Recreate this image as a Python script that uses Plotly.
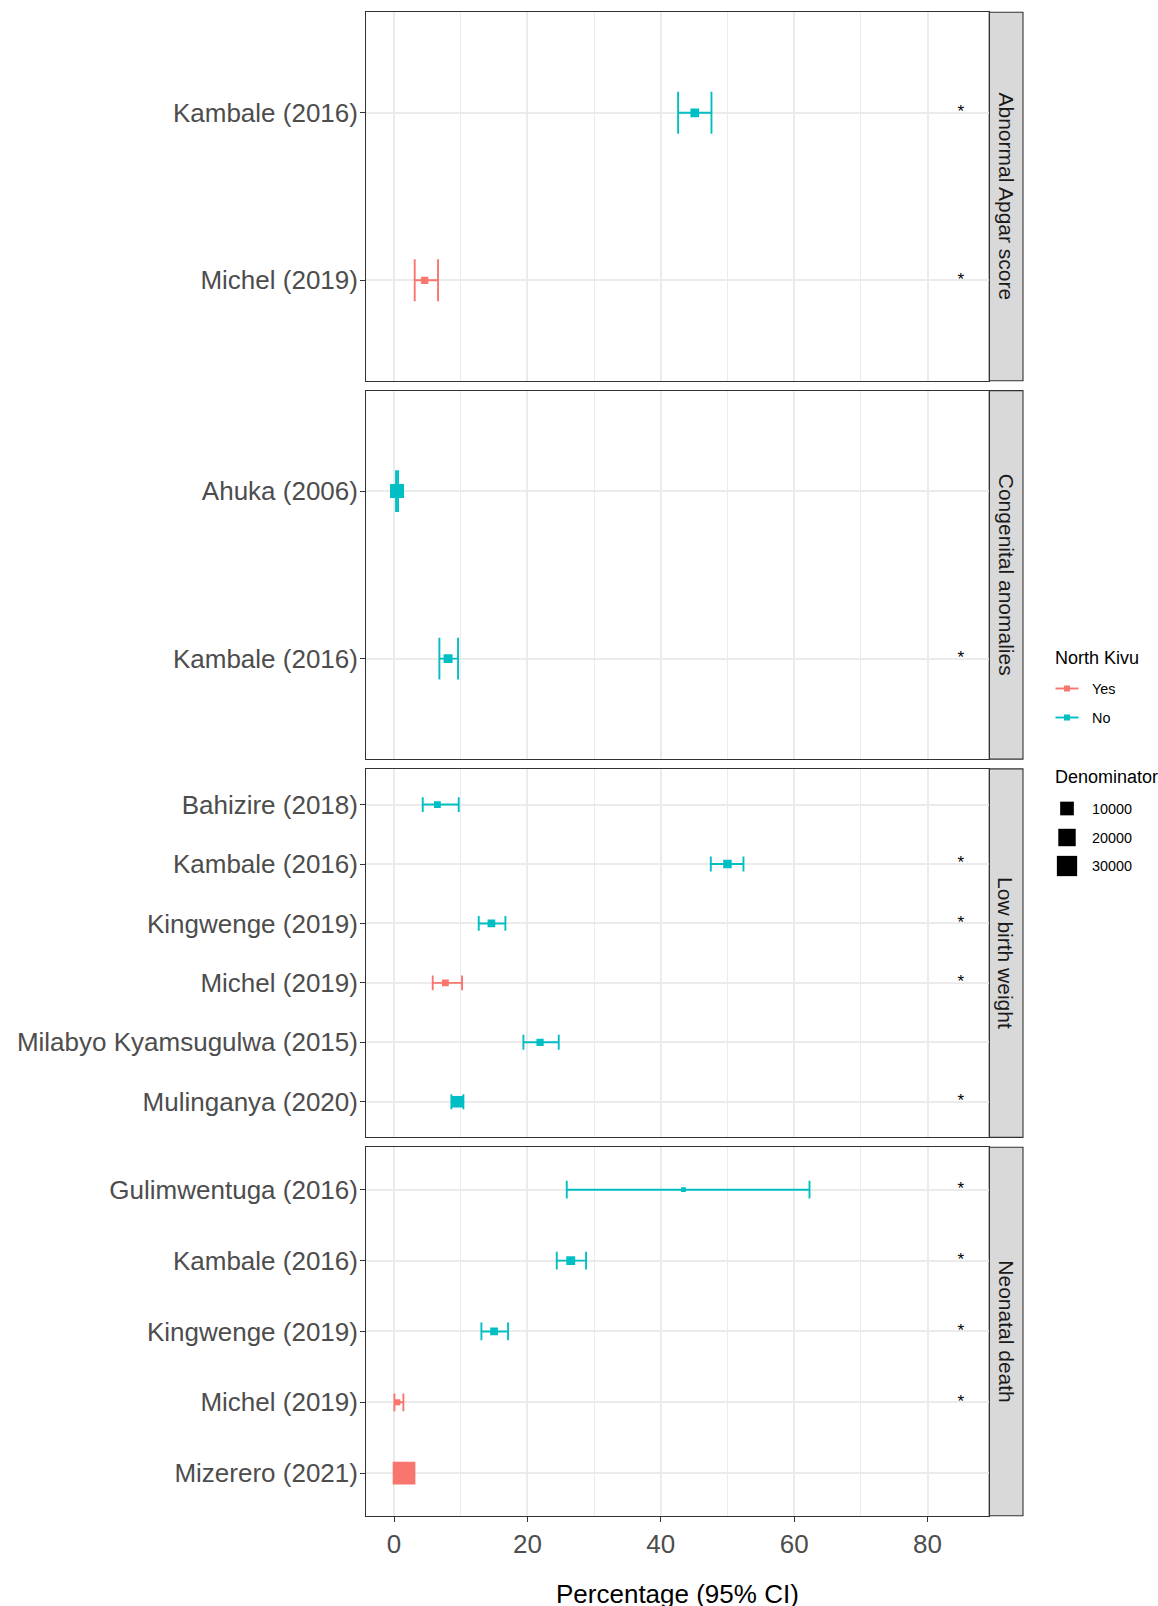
import math
import plotly.graph_objects as go

# ---------------------------------------------------------------- data
facet_names = ["Abnormal Apgar score", "Congenital anomalies",
               "Low birth weight", "Neonatal death"]

apgar_studies = ["Kambale (2016)", "Michel (2019)"]
apgar_est = [45.1, 4.6]
apgar_lo = [42.6, 3.1]
apgar_hi = [47.6, 6.6]
apgar_north_kivu = ["No", "Yes"]
apgar_denominator = [2000, 800]
apgar_flag = [True, True]

cong_studies = ["Ahuka (2006)", "Kambale (2016)"]
cong_est = [0.45, 8.1]
cong_lo = [0.3, 6.8]
cong_hi = [0.6, 9.6]
cong_north_kivu = ["No", "No"]
cong_denominator = [10700, 2200]
cong_flag = [False, True]

lbw_studies = ["Bahizire (2018)", "Kambale (2016)", "Kingwenge (2019)",
               "Michel (2019)", "Milabyo Kyamsugulwa (2015)", "Mulinganya (2020)"]
lbw_est = [6.5, 50.0, 14.6, 7.7, 21.9, 9.5]
lbw_lo = [4.3, 47.5, 12.7, 5.8, 19.4, 8.6]
lbw_hi = [9.7, 52.4, 16.7, 10.2, 24.7, 10.4]
lbw_north_kivu = ["No", "No", "No", "Yes", "No", "No"]
lbw_denominator = [575, 1810, 1140, 575, 800, 6070]
lbw_flag = [False, True, True, True, False, True]

nd_studies = ["Gulimwentuga (2016)", "Kambale (2016)", "Kingwenge (2019)",
              "Michel (2019)", "Mizerero (2021)"]
nd_est = [43.4, 26.5, 15.0, 0.5, 1.5]
nd_lo = [25.9, 24.4, 13.1, 0.06, 1.3]
nd_hi = [62.3, 28.8, 17.1, 1.4, 1.75]
nd_north_kivu = ["No", "No", "No", "Yes", "Yes"]
nd_denominator = [30, 2200, 1140, 240, 40000]
nd_flag = [True, True, True, True, False]

group_levels = ["Yes", "No"]
size_breaks = [10000, 20000, 30000]
x_ticks = [0, 20, 40, 60, 80]
x_minor = [10, 30, 50, 70]
flag_x = 85

# ---------------------------------------------------------------- style
W, H = 1158, 1606
FONT = "Liberation Sans, Arial, Helvetica, sans-serif"
COLORS = {"Yes": "#F8766D", "No": "#00BFC4"}
BORDER = "#333333"
GRID = "#EBEBEB"

X0, X1 = 365.7, 989.2          # panel left / right (px)
STRIP_X1 = 1023.0
TOP0, PH, GAP = 12.3, 368.5, 9.8
X_RANGE = [-4.25, 89.25]

panels = [
    dict(studies=apgar_studies, est=apgar_est, lo=apgar_lo, hi=apgar_hi,
         grp=apgar_north_kivu, den=apgar_denominator, flag=apgar_flag),
    dict(studies=cong_studies, est=cong_est, lo=cong_lo, hi=cong_hi,
         grp=cong_north_kivu, den=cong_denominator, flag=cong_flag),
    dict(studies=lbw_studies, est=lbw_est, lo=lbw_lo, hi=lbw_hi,
         grp=lbw_north_kivu, den=lbw_denominator, flag=lbw_flag),
    dict(studies=nd_studies, est=nd_est, lo=nd_lo, hi=nd_hi,
         grp=nd_north_kivu, den=nd_denominator, flag=nd_flag),
]

all_den = apgar_denominator + cong_denominator + lbw_denominator + nd_denominator
DMIN, DMAX = min(all_den), max(all_den)
S_MIN, S_MAX = 4.7, 22.7


def square_side(v):
    """Area-style size scale: side grows with sqrt of the denominator."""
    return S_MIN + (S_MAX - S_MIN) * math.sqrt(max(v - DMIN, 0) / (DMAX - DMIN))


def py(px):
    return 1 - px / H


def pxx(px):
    return px / W


fig = go.Figure()
layout = {}
shapes = []
annotations = []

for i, p in enumerate(panels):
    suffix = "" if i == 0 else str(i + 1)
    xa, ya = "x" + suffix, "y" + suffix
    n = len(p["studies"])
    top = TOP0 + i * (PH + GAP)
    bottom = top + PH
    cap_half = 0.25 * PH / (n + 0.2) / 2

    for g in group_levels:
        idx = [j for j in range(n) if p["grp"][j] == g]
        if not idx:
            continue
        fig.add_trace(go.Scatter(
            x=[p["est"][j] for j in idx],
            y=[p["studies"][j] for j in idx],
            mode="markers",
            marker=dict(symbol="square", color=COLORS[g], opacity=1,
                        size=[square_side(p["den"][j]) for j in idx],
                        line=dict(width=0)),
            error_x=dict(type="data", symmetric=False,
                         array=[p["hi"][j] - p["est"][j] for j in idx],
                         arrayminus=[p["est"][j] - p["lo"][j] for j in idx],
                         color=COLORS[g], thickness=1.9, width=cap_half),
            xaxis=xa, yaxis=ya, showlegend=False, hoverinfo="x+y",
        ))

    fidx = [j for j in range(n) if p["flag"][j]]
    if fidx:
        fig.add_trace(go.Scatter(
            x=[flag_x] * len(fidx),
            y=[p["studies"][j] for j in fidx],
            mode="text", text=["*"] * len(fidx),
            textposition="middle center",
            textfont=dict(family=FONT, size=17, color="black"),
            xaxis=xa, yaxis=ya, showlegend=False, hoverinfo="skip",
        ))

    last = i == len(panels) - 1
    layout["xaxis" + suffix] = dict(
        domain=[pxx(X0), pxx(X1)], anchor=ya, range=X_RANGE,
        tickmode="array", tickvals=x_ticks, ticktext=[str(t) for t in x_ticks],
        showticklabels=last, ticks="outside" if last else "",
        ticklen=5, tickwidth=1.1, tickcolor=BORDER,
        tickfont=dict(family=FONT, size=26, color="#4D4D4D"),
        showgrid=True, gridcolor=GRID, gridwidth=1.6,
        minor=dict(tickvals=x_minor, showgrid=True, gridcolor=GRID,
                   gridwidth=0.8, ticks=""),
        showline=True, linecolor=BORDER, linewidth=1.1, mirror=True,
        zeroline=False, fixedrange=True,
        **({} if i == 0 else {"matches": "x"}),
    )
    layout["yaxis" + suffix] = dict(
        domain=[py(bottom), py(top)], anchor=xa, type="category",
        categoryorder="array", categoryarray=p["studies"],
        range=[n - 0.4, -0.6],
        ticks="outside", ticklen=4.5, tickwidth=1.1, tickcolor=BORDER,
        ticklabelstandoff=-3,
        tickfont=dict(family=FONT, size=26, color="#4D4D4D"),
        showgrid=True, gridcolor=GRID, gridwidth=1.6,
        showline=True, linecolor=BORDER, linewidth=1.1, mirror=True,
        zeroline=False, fixedrange=True,
    )

    # facet strip on the right
    shapes.append(dict(type="rect", xref="paper", yref="paper",
                       x0=pxx(X1), x1=pxx(STRIP_X1), y0=py(bottom), y1=py(top),
                       fillcolor="#D9D9D9", line=dict(color=BORDER, width=1.1),
                       layer="below"))
    annotations.append(dict(xref="paper", yref="paper",
                            x=pxx((X1 + STRIP_X1) / 2), y=py((top + bottom) / 2),
                            text=facet_names[i], textangle=90, showarrow=False,
                            xanchor="center", yanchor="middle",
                            font=dict(family=FONT, size=21, color="#1A1A1A")))

# x-axis title
annotations.append(dict(xref="paper", yref="paper",
                        x=pxx((X0 + X1) / 2), y=py(1594), text="Percentage (95% CI)",
                        showarrow=False, xanchor="center", yanchor="middle",
                        font=dict(family=FONT, size=26, color="black")))

# ---------------------------------------------------------------- legends
LEG_X = 1053.0
KEY_CX = 1067.0
LABEL_X = 1090.0

annotations.append(dict(xref="paper", yref="paper", x=pxx(LEG_X), y=py(658),
                        text="North Kivu", showarrow=False, xanchor="left",
                        yanchor="middle", font=dict(family=FONT, size=18, color="black")))
for g, yk in zip(group_levels, [688.5, 717.5]):
    shapes.append(dict(type="line", xref="paper", yref="paper",
                       x0=pxx(KEY_CX - 11.5), x1=pxx(KEY_CX + 11.5),
                       y0=py(yk), y1=py(yk),
                       line=dict(color=COLORS[g], width=1.9)))
    shapes.append(dict(type="rect", xref="paper", yref="paper",
                       x0=pxx(KEY_CX - 3), x1=pxx(KEY_CX + 3),
                       y0=py(yk + 3), y1=py(yk - 3),
                       fillcolor=COLORS[g], line=dict(width=0)))
    annotations.append(dict(xref="paper", yref="paper", x=pxx(LABEL_X), y=py(yk),
                            text=g, showarrow=False, xanchor="left", yanchor="middle",
                            font=dict(family=FONT, size=14.4, color="black")))

annotations.append(dict(xref="paper", yref="paper", x=pxx(LEG_X), y=py(777),
                        text="Denominator", showarrow=False, xanchor="left",
                        yanchor="middle", font=dict(family=FONT, size=18, color="black")))
for b, yk in zip(size_breaks, [808.5, 837.5, 866.0]):
    half = square_side(b) / 2
    shapes.append(dict(type="rect", xref="paper", yref="paper",
                       x0=pxx(KEY_CX - half), x1=pxx(KEY_CX + half),
                       y0=py(yk + half), y1=py(yk - half),
                       fillcolor="black", line=dict(width=0)))
    annotations.append(dict(xref="paper", yref="paper", x=pxx(LABEL_X), y=py(yk),
                            text=str(b), showarrow=False, xanchor="left",
                            yanchor="middle",
                            font=dict(family=FONT, size=14.4, color="black")))

fig.update_layout(
    width=W, height=H,
    margin=dict(l=0, r=0, t=0, b=0),
    paper_bgcolor="white", plot_bgcolor="white",
    showlegend=False,
    shapes=shapes, annotations=annotations,
    font=dict(family=FONT),
    **layout,
)

fig.write_html("out.html")
